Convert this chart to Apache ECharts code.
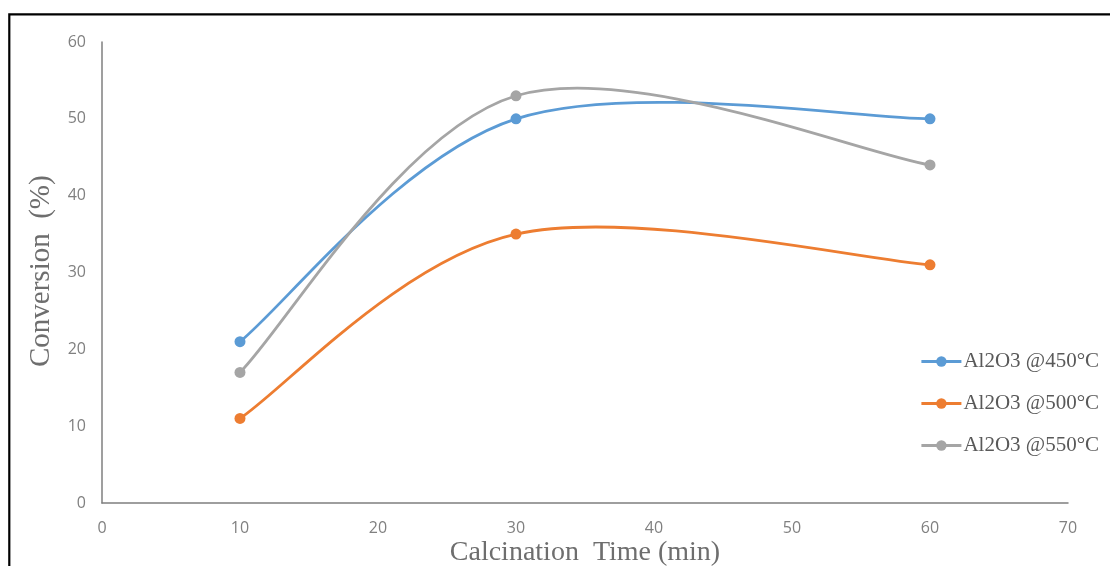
<!DOCTYPE html>
<html>
<head>
<meta charset="utf-8">
<script src="https://cdn.jsdelivr.net/npm/echarts@6/dist/echarts.min.js"></script>
<style>html,body{margin:0;padding:0;background:#fff}#c{width:1110px;height:566px}</style>
</head>
<body>
<div id="c"></div>
<script>
var times = [10, 30, 60];
var seriesNames = ['Al2O3 @450°C', 'Al2O3 @500°C', 'Al2O3 @550°C'];
var conv450 = [21, 50, 50];
var conv500 = [11, 35, 31];
var conv550 = [17, 53, 44];
var xTicks = [0, 10, 20, 30, 40, 50, 60, 70];
var yTicks = [0, 10, 20, 30, 40, 50, 60];
var xTitle = 'Calcination  Time (min)';
var yTitle = 'Conversion  (%)';
var colors = ['#5B9BD5', '#ED7D31', '#A5A5A5'];
var allValues = [conv450, conv500, conv550];

var chart = echarts.init(document.getElementById('c'));

function curveSeries(vals, i) {
  return {
    name: seriesNames[i] + ' curve',
    type: 'custom',
    coordinateSystem: 'cartesian2d',
    data: times.map(function (t, j) { return [t, vals[j]]; }),
    encode: { x: 0, y: 1 },
    silent: true,
    z: 2,
    renderItem: function (params, api) {
      var j = params.dataIndex;
      var n = times.length;
      if (j >= n - 1) return { type: 'group', children: [] };
      var p = function (k) {
        k = Math.max(0, Math.min(n - 1, k));
        return api.coord([times[k], vals[k]]);
      };
      var p0 = p(j - 1), p1 = p(j), p2 = p(j + 1), p3 = p(j + 2);
      return {
        type: 'bezierCurve',
        shape: {
          x1: p1[0], y1: p1[1],
          cpx1: p1[0] + (p2[0] - p0[0]) / 6, cpy1: p1[1] + (p2[1] - p0[1]) / 6,
          cpx2: p2[0] - (p3[0] - p1[0]) / 6, cpy2: p2[1] - (p3[1] - p1[1]) / 6,
          x2: p2[0], y2: p2[1]
        },
        style: { stroke: colors[i], lineWidth: 2.8, fill: 'none', lineCap: 'round' }
      };
    }
  };
}

function markerSeries(vals, i) {
  return {
    name: seriesNames[i],
    type: 'line',
    symbol: 'circle',
    symbolSize: 11,
    data: times.map(function (t, j) { return [t, vals[j]]; }),
    lineStyle: { color: colors[i], width: 2.8, opacity: 0 },
    itemStyle: { color: colors[i] },
    z: 3
  };
}

var series = [];
allValues.forEach(function (v, i) { series.push(curveSeries(v, i)); });
allValues.forEach(function (v, i) { series.push(markerSeries(v, i)); });

chart.setOption({
  animation: false,
  backgroundColor: '#fff',
  graphic: [
    {
      type: 'rect',
      shape: { x: 9.3, y: 14.3, width: 1200, height: 700 },
      style: { fill: 'none', stroke: '#000', lineWidth: 2.2 },
      silent: true
    },
    {
      type: 'text',
      x: 585, y: 553,
      style: { text: xTitle, font: '28px "Liberation Serif"', fill: '#6e6e6e', align: 'center', verticalAlign: 'middle' },
      silent: true
    },
    {
      type: 'text',
      x: 41, y: 367,
      rotation: Math.PI / 2,
      style: { text: yTitle, font: '29px "Liberation Serif"', fill: '#6e6e6e', align: 'left', verticalAlign: 'middle' },
      silent: true
    }
  ],
  grid: { left: 102, right: 42, top: 42, bottom: 63 },
  legend: {
    orient: 'vertical',
    left: 915,
    top: 346,
    itemWidth: 40,
    itemHeight: 13,
    itemGap: 21,
    data: seriesNames.map(function (n, i) {
      return {
        name: n,
        itemStyle: { color: colors[i] },
        lineStyle: { color: colors[i], width: 2.8, opacity: 1 }
      };
    }),
    textStyle: { fontFamily: 'Liberation Serif', fontSize: 21, color: '#595959', padding: [0, 0, 0, -3] }
  },
  xAxis: {
    type: 'value',
    min: xTicks[0], max: xTicks[xTicks.length - 1], interval: 10,
    axisLine: { show: true, lineStyle: { color: '#7f7f7f', width: 1.5 } },
    axisTick: { show: false },
    splitLine: { show: false },
    axisLabel: { margin: 17, fontFamily: 'Open Sans', fontSize: 16, color: '#808080' }
  },
  yAxis: {
    type: 'value',
    min: yTicks[0], max: yTicks[yTicks.length - 1], interval: 10,
    axisLine: { show: true, lineStyle: { color: '#7f7f7f', width: 1.5 } },
    axisTick: { show: false },
    splitLine: { show: false },
    axisLabel: { margin: 16, fontFamily: 'Open Sans', fontSize: 16, color: '#808080' }
  },
  series: series
});
</script>
</body>
</html>
